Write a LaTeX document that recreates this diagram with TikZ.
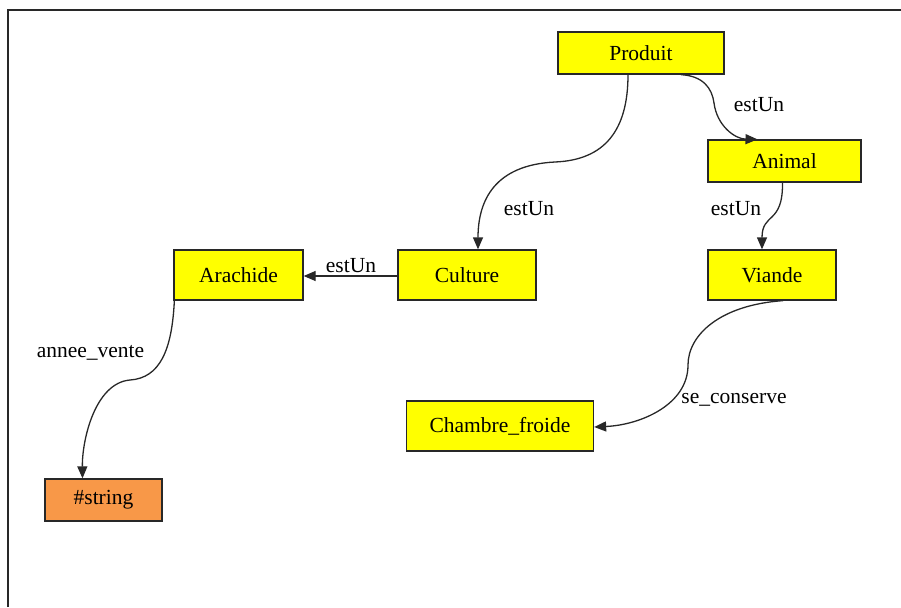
\documentclass[tikz,border=0pt]{standalone}
\usepackage{fontspec}
\setmainfont{Liberation Serif}
\usetikzlibrary{arrows.meta}
\definecolor{boxyellow}{RGB}{255,255,0}
\definecolor{boxorange}{RGB}{248,152,72}
\definecolor{edgegray}{RGB}{40,40,40}
\tikzset{
  cls/.style={draw=edgegray, line width=1.3pt, fill=boxyellow, inner sep=0pt,
              font=\fontsize{21.5}{25}\selectfont},
  lit/.style={cls, fill=boxorange},
  rel/.style={draw=edgegray, line width=1.3pt,
              -{Triangle[length=12pt,width=10pt]}},
  lbl/.style={inner sep=0pt, font=\fontsize{21.5}{25}\selectfont},
}
\begin{document}
\begin{tikzpicture}[x=1pt,y=-1pt]
\useasboundingbox (0,0) rectangle (901,607);
% frame edges
\draw[edgegray, line width=1.8pt] (8,607) -- (8,10) -- (901,10);

% classes
\node[cls, minimum width=166pt, minimum height=42pt] (produit)  at (641,53)    {Produit};
\node[cls, minimum width=153pt, minimum height=42pt] (animal)   at (784.5,161) {Animal};
\node[cls, minimum width=128pt, minimum height=50pt] (viande)   at (772,275)   {Viande};
\node[cls, minimum width=138pt, minimum height=50pt] (culture)  at (467,275)   {Culture};
\node[cls, minimum width=129pt, minimum height=50pt] (arachide) at (238.5,275) {Arachide};
\node[cls, minimum width=187pt, minimum height=50pt] (chambre)  at (500,426)   {Chambre\_froide};
\node[lit, minimum width=117pt, minimum height=42pt] (string)   at (103.5,500) {\#string};

% relations
\draw[rel] ([xshift=-13pt]produit.south)
  .. controls (628,130) and (605,160) .. (555,162)
  .. controls (495,165) and (478,200) .. ([xshift=11pt]culture.north);
\draw[rel] ([xshift=40pt]produit.south)
  .. controls (703,76) and (712,88) .. (714,103)
  .. controls (717,126) and (735,139) .. ([xshift=-27pt]animal.north);
\draw[rel] ([xshift=-2pt]animal.south)
  .. controls (783,225) and (762,212) .. ([xshift=-10pt]viande.north);
\draw[rel] ([yshift=-1pt]culture.west) -- ([yshift=-1pt]arachide.east);
\draw[rel] ([xshift=1pt]arachide.south west)
  .. controls (172,350) and (160,378) .. (130,380)
  .. controls (95,383) and (82,440) .. ([xshift=-21pt]string.north);
\draw[rel] ([xshift=11pt]viande.south)
  .. controls (720,305) and (688,335) .. (688,365)
  .. controls (688,405) and (640,425) .. ([yshift=-1pt]chambre.east);

% relation names
\node[lbl] (l1) at (529,209) {estUn};
\node[lbl] (l2) at (759,105) {estUn};
\node[lbl] (l3) at (736,209) {estUn};
\node[lbl] (l4) at (351,266) {estUn};
\node[lbl] (l5) at (90.5,353) {annee\_vente};
\node[lbl] (l6) at (734,400) {se\_conserve};
\end{tikzpicture}
\end{document}
